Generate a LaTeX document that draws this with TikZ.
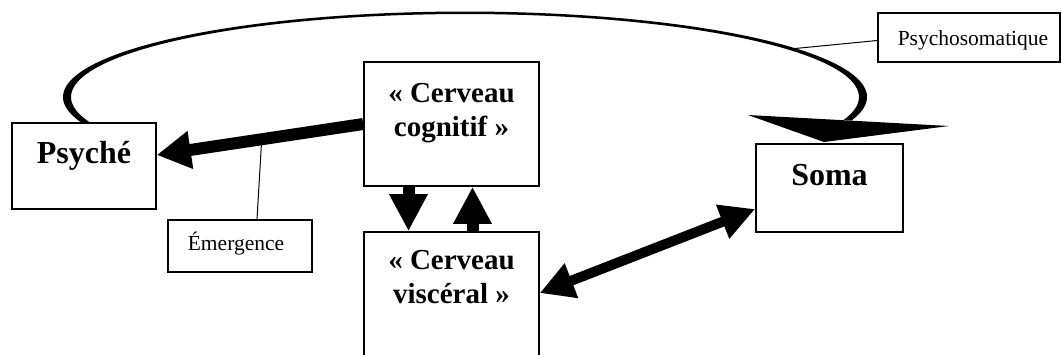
\documentclass[tikz,border=0pt]{standalone}
\usepackage{fontspec}
\setmainfont{Liberation Serif}
\usetikzlibrary{arrows.meta,calc}
\begin{document}
\begin{tikzpicture}[x=1pt,y=-1pt,
  box/.style={draw, line width=1.6pt, rectangle, inner sep=0pt},
  big/.style={font=\bfseries\fontsize{29}{34}\selectfont, anchor=base, align=center, inner sep=0pt},
  bigger/.style={font=\bfseries\fontsize{32}{36}\selectfont, anchor=base, inner sep=0pt},
  small/.style={font=\fontsize{21.5}{25}\selectfont, anchor=base, inner sep=0pt},
  leader/.style={line width=1pt},
  fatarrow/.style={line width=12pt, -{Triangle[length=34pt,width=36pt]}},
  vertarrow/.style={line width=12pt, -{Triangle[length=37pt,width=36pt]}},
  dblarrow/.style={line width=10pt, {Triangle[length=34pt,width=35pt]}-{Triangle[length=35pt,width=34pt]}}
]
\useasboundingbox (0,0) rectangle (1062,354);
\clip (0,0) rectangle (1062,354);
\fill[white] (0,0) rectangle (1062,354);

% boxes
\node[box, minimum width=144pt, minimum height=86pt] (psy) at (84,166) {};
\node[box, minimum width=175pt, minimum height=124pt] (cog) at (451.5,124) {};
\node[box, minimum width=175pt, minimum height=148pt] (visc) at (451.5,306) {};
\node[box, minimum width=147pt, minimum height=88pt] (soma) at (829.5,188) {};
\node[box, minimum width=144pt, minimum height=52pt] (emerg) at (240,246) {};
\node[box, minimum width=182pt, minimum height=49pt] (psys) at (969,37.5) {};

% texts
\node[bigger] (psyt) at (84,163) {Psyché};
\node[big] (cogt) at (451.5,136) {« Cerveau\\cognitif »};
\node[big] (visct) at (451.5,303) {« Cerveau\\viscéral »};
\node[bigger] (somat) at (829.5,185) {Soma};
\node[small] (emergt) at (236,250) {Émergence};
\node[small] (psyst) at (973,45) {Psychosomatique};

% coordinates
\coordinate (psytip) at ([yshift=11pt]psy.east);
\coordinate (shaftpt) at ($(cog.west)!0.49!(psytip)$);
\coordinate (looppt) at (790,49);
\coordinate (hl) at (748,115);
\coordinate (hr) at (949,126);
\coordinate (ht) at (824,142);

% leader lines
\draw[leader] ([xshift=17pt]emerg.north) -- ([yshift=6pt]shaftpt);
\draw[leader] ([yshift=-3pt]psys.west) -- (looppt);

% psychosomatic loop (tapered)
\fill plot[domain=162:376, samples=120] ({465+402*cos(\x)},{97+85.5*sin(\x)})
  -- plot[domain=376:162, samples=120] ({465+394*cos(\x)},{97+83*sin(\x)}) -- cycle;
\fill (hl) -- (hr) -- (ht) -- cycle;

% arrows
\draw[fatarrow] (cog.west) -- (psytip);
\draw[vertarrow] ([xshift=-43pt]cog.south) -- ([xshift=-43pt]visc.north);
\draw[vertarrow] ([xshift=21pt]visc.north) -- ([xshift=21pt]cog.south);
\draw[dblarrow] ([yshift=13pt]visc.east) -- ([yshift=-21pt]soma.west);
\end{tikzpicture}
\end{document}
